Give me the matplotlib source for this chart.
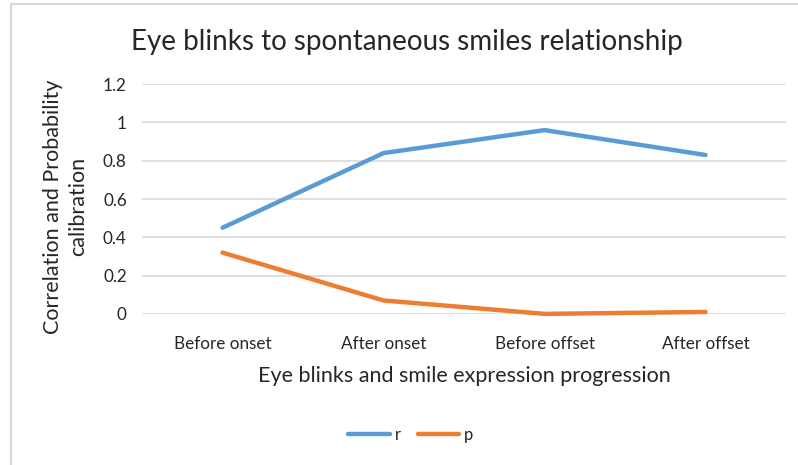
import numpy as np
import matplotlib
matplotlib.use("Agg")
import matplotlib.pyplot as plt
from matplotlib.lines import Line2D

plt.rcParams['font.family'] = ['Lato', 'DejaVu Sans']

###############################################################################
# Data
stages = ['Before onset', 'After onset', 'Before offset', 'After offset']
r_vals = [0.45, 0.84, 0.96, 0.83]
p_vals = [0.32, 0.07, 0.0, 0.01]
y_ticks = [0, 0.2, 0.4, 0.6, 0.8, 1, 1.2]
y_tick_labels = ['0', '0.2', '0.4', '0.6', '0.8', '1', '1.2']

blue = '#5b9bd5'
orange = '#ed7d31'
grid_col = '#d9d9d9'
text_col = '#262626'

###############################################################################
fig = plt.figure(figsize=(7.98, 4.65), dpi=100)
ax = fig.add_axes([0.178, 0.325, 0.807, 0.494])

x = np.arange(len(stages))
ax.plot(x, r_vals, color=blue, lw=3.2, solid_capstyle='round', label='r')
ax.plot(x, p_vals, color=orange, lw=3.2, solid_capstyle='round', label='p')

ax.set_xlim(-0.5, len(stages) - 0.5)
ax.set_ylim(0, 1.2)
ax.set_yticks(y_ticks)
ax.set_yticklabels(y_tick_labels)
ax.set_xticks(x)
ax.set_xticklabels(stages)
ax.tick_params(axis='both', length=0, labelsize=12.3, colors=text_col)
ax.tick_params(axis='x', pad=16)
ax.tick_params(axis='y', pad=11)

ax.grid(axis='y', color=grid_col, lw=1.2)
ax.set_axisbelow(True)
for s in ax.spines.values():
    s.set_visible(False)
for line in ax.get_lines():
    line.set_clip_on(False)

ax.set_xlabel('Eye blinks and smile expression progression',
              fontsize=15.5, color=text_col, labelpad=10)
fig.text(0.082, 0.555, 'Correlation and Probability\ncalibration',
         rotation=90, ha='center', va='center', fontsize=15.5,
         color=text_col, linespacing=1.35)

fig.text(0.51, 0.91, 'Eye blinks to spontaneous smiles relationship',
         ha='center', va='center', fontsize=20, color=text_col)

handles = [Line2D([], [], color=blue, lw=3.2, solid_capstyle='round'),
           Line2D([], [], color=orange, lw=3.2, solid_capstyle='round')]
fig.legend(handles, ['r', 'p'], loc='center', bbox_to_anchor=(0.515, 0.064),
           ncol=2, frameon=False, fontsize=12, handlelength=2.5,
           handletextpad=0.3, columnspacing=1.0, labelcolor=text_col)

# chart frame (top and left edges)
fig.add_artist(Line2D([0.014, 1.0], [0.991, 0.991], color='#d9d9d9', lw=1.5,
                      transform=fig.transFigure))
fig.add_artist(Line2D([0.014, 0.014], [0.0, 0.991], color='#d9d9d9', lw=1.5,
                      transform=fig.transFigure))

fig.savefig('out.png', dpi=100, facecolor='white')
